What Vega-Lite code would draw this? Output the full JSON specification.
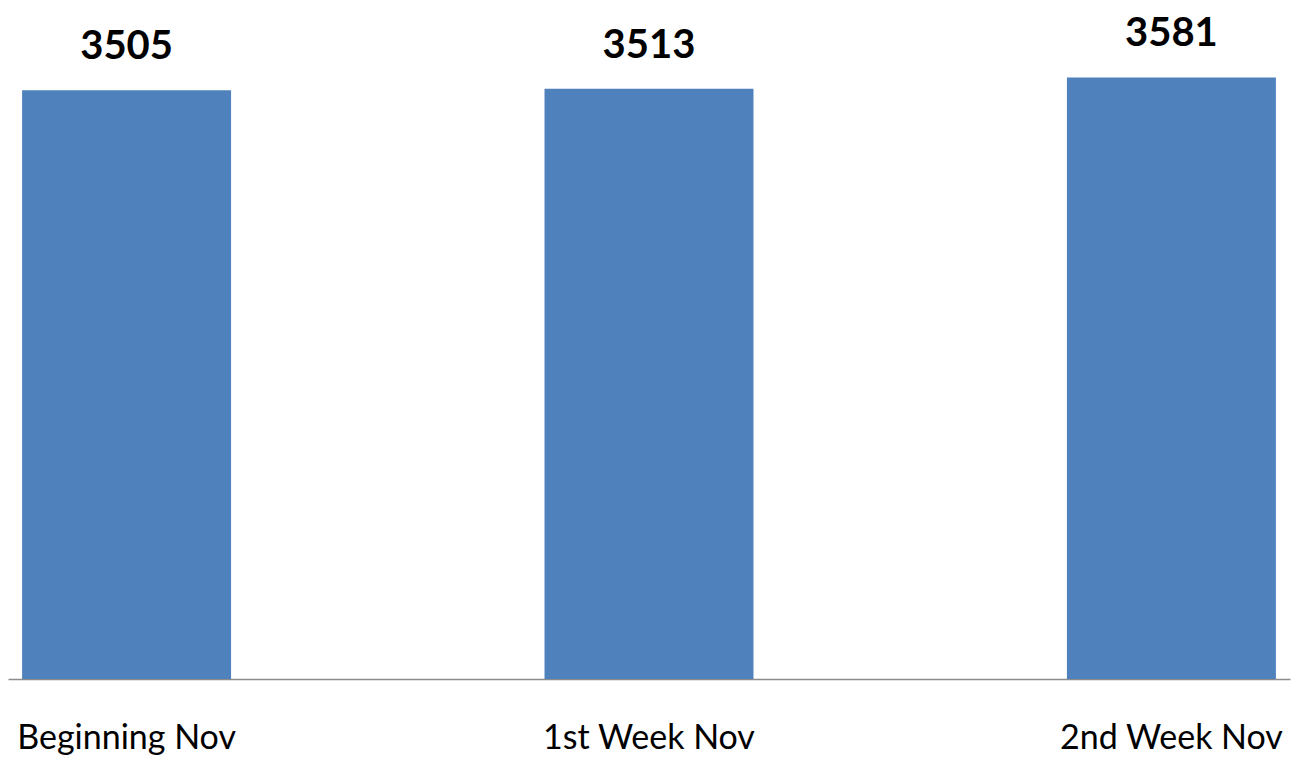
{
  "$schema": "https://vega.github.io/schema/vega-lite/v6.json",
  "width": 1282,
  "height": 672,
  "autosize": {"type": "none"},
  "padding": {"left": 8, "top": 7, "right": 9, "bottom": 79},
  "background": "white",
  "config": {"view": {"stroke": null}},
  "data": {"values": [
    {"period": "Beginning Nov", "count": 3505},
    {"period": "1st Week Nov", "count": 3513},
    {"period": "2nd Week Nov", "count": 3581}
  ]},
  "encoding": {
    "x": {"field": "period", "type": "nominal", "sort": null,
      "scale": {"paddingInner": 0.6, "paddingOuter": 0.027},
      "axis": {"title": null, "labelAngle": 0, "ticks": false, "domainColor": "#8c8c8c", "domainWidth": 1.5,
        "labelFont": "Lato", "labelFontSize": 34, "labelColor": "#000000", "labelPadding": 42, "labelBaseline": "top",
        "labelLimit": 0, "labelOverlap": false, "labelFlush": false}},
    "y": {"field": "count", "type": "quantitative",
      "scale": {"domain": [0, 4000], "nice": false},
      "axis": null}
  },
  "layer": [
    {"mark": {"type": "bar", "color": "#4F81BD"}},
    {"mark": {"type": "text", "baseline": "alphabetic", "dy": -31, "font": "Lato", "fontWeight": "bold", "fontSize": 40, "color": "#000000"},
     "encoding": {"text": {"field": "count", "type": "quantitative"}}}
  ]
}
